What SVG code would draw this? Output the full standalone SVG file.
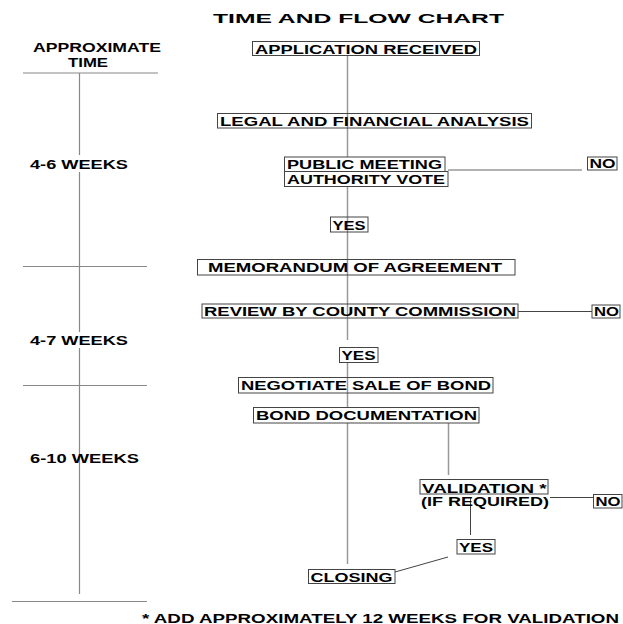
<svg xmlns="http://www.w3.org/2000/svg" width="623" height="624" viewBox="0 0 623 624">
<style>
text{font-family:"Liberation Sans",Arial,sans-serif;font-weight:bold;fill:#000;font-size:13.5px}
.box{fill:none;stroke:#444;stroke-width:1}
.ln{stroke:#999;stroke-width:1.5;fill:none}
.dk{stroke:#444;stroke-width:1;fill:none}
.tl{stroke:#888;stroke-width:1.2;fill:none}
</style>
<rect width="623" height="624" fill="#fff"/>
<text x="213" y="23" font-size="17" textLength="291" lengthAdjust="spacingAndGlyphs">TIME AND FLOW CHART</text>
<g id="timeline">
<text x="33" y="52" font-size="13" textLength="128" lengthAdjust="spacingAndGlyphs">APPROXIMATE</text>
<text x="68" y="67" font-size="13" textLength="40" lengthAdjust="spacingAndGlyphs">TIME</text>
<line class="tl" x1="23" y1="73" x2="158" y2="73"/>
<line class="tl" x1="79.5" y1="73" x2="79.5" y2="155"/>
<line class="tl" x1="79.5" y1="172" x2="79.5" y2="332"/>
<line class="tl" x1="79.5" y1="348" x2="79.5" y2="594"/>
<line class="tl" x1="23" y1="266.5" x2="147" y2="266.5"/>
<line class="tl" x1="23" y1="385.5" x2="147" y2="385.5"/>
<line class="tl" x1="12" y1="601.5" x2="147" y2="601.5"/>
<text x="30" y="169" textLength="98" lengthAdjust="spacingAndGlyphs">4-6 WEEKS</text>
<text x="30" y="345" textLength="98" lengthAdjust="spacingAndGlyphs">4-7 WEEKS</text>
<text x="30" y="463" textLength="109" lengthAdjust="spacingAndGlyphs">6-10 WEEKS</text>
</g>
<g id="connectors">
<line class="ln" x1="347.5" y1="56" x2="347.5" y2="157"/>
<line class="ln" x1="347.5" y1="187" x2="347.5" y2="340"/>
<line class="ln" x1="347.5" y1="363" x2="347.5" y2="407"/>
<line class="ln" x1="347.5" y1="423" x2="347.5" y2="564"/>
<line class="ln" x1="448" y1="170" x2="582" y2="170"/>
<line class="dk" x1="518" y1="311.5" x2="592" y2="311.5"/>
<line class="ln" x1="448.5" y1="423" x2="448.5" y2="475"/>
<line class="dk" x1="550" y1="497.5" x2="593" y2="497.5"/>
<line class="dk" x1="470.5" y1="498" x2="470.5" y2="535"/>
<line class="dk" x1="448" y1="557" x2="395" y2="572"/>
</g>
<g id="n-application"><rect class="box" x="252.5" y="41.5" width="227" height="14"/><text x="255" y="53.5" textLength="222" lengthAdjust="spacingAndGlyphs">APPLICATION RECEIVED</text></g>
<g id="n-legal"><rect class="box" x="217.5" y="113.5" width="314" height="14.5"/><text x="220" y="125.5" textLength="309" lengthAdjust="spacingAndGlyphs">LEGAL AND FINANCIAL ANALYSIS</text></g>
<g id="n-public"><rect class="box" x="284.5" y="157" width="160.5" height="14.5"/><text x="287" y="169" textLength="155" lengthAdjust="spacingAndGlyphs">PUBLIC MEETING</text></g>
<g id="n-authority"><rect class="box" x="284.5" y="171.5" width="163.5" height="15"/><text x="287" y="184" textLength="158" lengthAdjust="spacingAndGlyphs">AUTHORITY VOTE</text></g>
<g id="n-no1"><rect class="box" x="587.5" y="157" width="29.5" height="13"/><text x="589.5" y="168" textLength="26" lengthAdjust="spacingAndGlyphs">NO</text></g>
<g id="n-yes1"><rect class="box" x="330.5" y="217" width="37.5" height="15"/><text x="332.5" y="229.5" textLength="33" lengthAdjust="spacingAndGlyphs">YES</text></g>
<g id="n-memo"><rect class="box" x="197.5" y="259.5" width="317.5" height="15.5"/><text x="208" y="272" textLength="294" lengthAdjust="spacingAndGlyphs">MEMORANDUM OF AGREEMENT</text></g>
<g id="n-review"><rect class="box" x="202" y="304" width="316" height="14"/><text x="204" y="316" textLength="312" lengthAdjust="spacingAndGlyphs">REVIEW BY COUNTY COMMISSION</text></g>
<g id="n-no2"><rect class="box" x="592" y="305" width="28" height="13"/><text x="594" y="316" textLength="25" lengthAdjust="spacingAndGlyphs">NO</text></g>
<g id="n-yes2"><rect class="box" x="339.5" y="347.5" width="38.5" height="15"/><text x="341.5" y="360" textLength="34" lengthAdjust="spacingAndGlyphs">YES</text></g>
<g id="n-negotiate"><rect class="box" x="238.5" y="377.5" width="254.5" height="15.5"/><text x="241" y="390" textLength="250" lengthAdjust="spacingAndGlyphs">NEGOTIATE SALE OF BOND</text></g>
<g id="n-bonddoc"><rect class="box" x="253.5" y="407.5" width="225.5" height="15.5"/><text x="256" y="420" textLength="221" lengthAdjust="spacingAndGlyphs">BOND DOCUMENTATION</text></g>
<g id="n-validation"><rect class="box" x="420" y="479.5" width="128" height="14.5"/><text x="422" y="492.5" textLength="124.5" lengthAdjust="spacingAndGlyphs">VALIDATION *</text><text x="421" y="506" textLength="128" lengthAdjust="spacingAndGlyphs">(IF REQUIRED)</text></g>
<g id="n-no3"><rect class="box" x="593.5" y="494.5" width="28.5" height="13.5"/><text x="595.5" y="506" textLength="25" lengthAdjust="spacingAndGlyphs">NO</text></g>
<g id="n-yes3"><rect class="box" x="457" y="539.5" width="38" height="14.5"/><text x="459" y="551.5" textLength="34" lengthAdjust="spacingAndGlyphs">YES</text></g>
<g id="n-closing"><rect class="box" x="308.5" y="569.5" width="86.5" height="14"/><text x="310.5" y="581.5" textLength="82" lengthAdjust="spacingAndGlyphs">CLOSING</text></g>
<text x="142" y="622.5" textLength="477" lengthAdjust="spacingAndGlyphs">* ADD APPROXIMATELY 12 WEEKS FOR VALIDATION</text>
</svg>
